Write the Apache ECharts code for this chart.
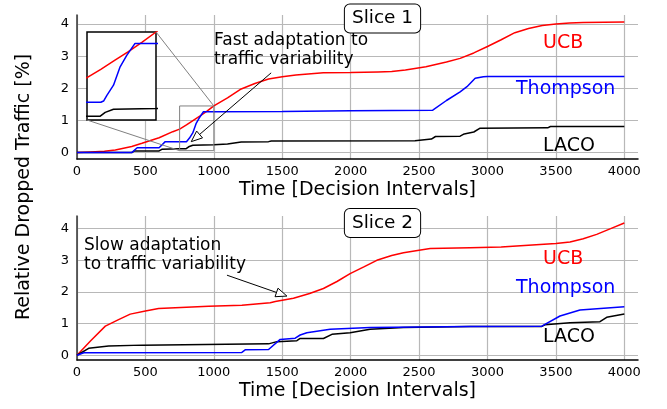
<!DOCTYPE html>
<html><head><meta charset="utf-8">
<script src="https://cdn.jsdelivr.net/npm/echarts@6/dist/echarts.min.js"></script>
<style>html,body{margin:0;padding:0;background:#fff}#c{width:667px;height:409px}</style>
</head><body><div id="c"></div>
<script>
// ---- data ----
const xTicks = [0, 500, 1000, 1500, 2000, 2500, 3000, 3500, 4000];
const yTicks = [0, 1, 2, 3, 4];

// Slice 1
const s1UcbX = [0,100,200,280,400,475,600,700,750,800,850,900,950,1000,1050,1100,1200,1300,1400,1500,1600,1800,2000,2200,2300,2400,2550,2700,2800,2900,3000,3100,3200,3300,3400,3500,3600,3700,4000];
const s1UcbY = [0,0.02,0.04,0.08,0.19,0.29,0.46,0.65,0.73,0.86,1.0,1.14,1.29,1.45,1.58,1.70,1.98,2.15,2.29,2.36,2.41,2.48,2.49,2.51,2.52,2.57,2.67,2.82,2.93,3.10,3.30,3.51,3.73,3.86,3.95,4.0,4.03,4.05,4.06];
const s1ThX = [0,400,410,440,600,610,645,800,810,822,846,870,894,924,1000,1500,2000,2600,2700,2800,2850,2910,2970,3000,4000];
const s1ThY = [0,0,0.05,0.15,0.15,0.2,0.34,0.34,0.36,0.45,0.61,0.90,1.08,1.27,1.27,1.28,1.30,1.32,1.62,1.89,2.05,2.31,2.36,2.37,2.37];
const s1LacoX = [0,400,420,600,620,750,798,816,846,1000,1100,1200,1400,1420,2470,2480,2590,2620,2800,2830,2900,2946,3440,3460,4000];
const s1LacoY = [0,0,0.05,0.05,0.10,0.12,0.12,0.18,0.23,0.24,0.27,0.33,0.34,0.36,0.37,0.41,0.42,0.50,0.51,0.58,0.64,0.76,0.77,0.81,0.81];

// Slice 2
const s2UcbX = [0,100,207,300,389,500,596,800,961,1205,1412,1449,1582,1700,1801,1900,1996,2100,2191,2300,2386,2500,2581,2873,3100,3384,3500,3603,3700,3798,3900,4000];
const s2UcbY = [0,0.46,0.92,1.12,1.30,1.40,1.48,1.52,1.55,1.58,1.66,1.70,1.80,1.95,2.11,2.33,2.58,2.80,3.0,3.15,3.24,3.32,3.37,3.40,3.42,3.50,3.53,3.58,3.68,3.82,4.0,4.18];
const s2ThX = [0,50,1205,1229,1400,1412,1485,1595,1631,1680,1850,2142,2873,3397,3530,3676,4000];
const s2ThY = [0,0.08,0.09,0.17,0.18,0.22,0.50,0.54,0.64,0.71,0.82,0.88,0.91,0.92,1.24,1.43,1.53];
const s2LacoX = [0,85,231,475,1400,1412,1461,1607,1631,1801,1863,1996,2142,2386,2873,3397,3420,3603,3822,3871,4000];
const s2LacoY = [0,0.22,0.29,0.32,0.36,0.38,0.43,0.46,0.53,0.53,0.66,0.71,0.82,0.88,0.91,0.91,0.96,1.03,1.06,1.20,1.30];

// inset region (data coords)
const insetX = [750, 1000];
const insetY = [0.06, 1.45];
// annotation arrows (data coords)
const fastArrowTail = [1419, 2.48], fastArrowTip = [835, 0.34];
const slowArrowTail = [1096, 2.53], slowArrowTip = [1534, 1.87];

// ---- build ----
const FONT = "'DejaVu Sans', sans-serif";
const pairs = (xs, ys) => xs.map((x, i) => [x, ys[i]]);
const colors = {ucb:'#ff0000', th:'#0000ff', laco:'#000000'};

function xAxis(gi) {
  return {type:'value', gridIndex:gi, min:0, max:4100,
    axisLine:{show:true, onZero:false, lineStyle:{color:'#000', width:1.5}},
    axisTick:{show:false, customValues:xTicks},
    axisLabel:{customValues:xTicks, fontSize:13, color:'#000', margin:6, fontFamily:FONT, formatter:v => String(v)},
    splitLine:{show:true, lineStyle:{color:'#b8b8b8', width:1.2}},
    name:'Time [Decision Intervals]', nameLocation:'middle', nameGap:22,
    nameTextStyle:{fontSize:19, color:'#000', fontFamily:FONT}};
}
function yAxis(gi, mn, mx) {
  return {type:'value', gridIndex:gi, min:mn, max:mx,
    axisLine:{show:true, onZero:false, lineStyle:{color:'#333', width:1.5}},
    axisTick:{show:false, customValues:yTicks},
    axisLabel:{customValues:yTicks, fontSize:13, color:'#000', margin:8, fontFamily:FONT, formatter:v => String(v)},
    splitLine:{show:true, lineStyle:{color:'#b8b8b8', width:1.2}}};
}
function line(name, gi, xs, ys, color, z) {
  return {type:'line', name, xAxisIndex:gi, yAxisIndex:gi, data:pairs(xs, ys),
    showSymbol:false, symbol:'none', lineStyle:{color, width:1.5}, itemStyle:{color},
    z:z||2, animation:false, clip:true};
}

const chart = echarts.init(document.getElementById('c'), null, {renderer:'canvas'});
chart.setOption({
  animation:false,
  backgroundColor:'#fff',
  grid:[
    {left:77, right:29, top:15, height:144},
    {left:77, right:29, top:216, height:144},
    {left:87, top:32, width:69, height:88, show:true, borderColor:'#000', borderWidth:1.5, backgroundColor:'#fff', z:3}
  ],
  xAxis:[xAxis(0), xAxis(1), {type:'value', gridIndex:2, min:insetX[0], max:insetX[1], show:false}],
  yAxis:[yAxis(0,-0.2,4.28), yAxis(1,-0.15,4.4), {type:'value', gridIndex:2, min:insetY[0], max:insetY[1], show:false}],
  series:[
    line('UCB',0,s1UcbX,s1UcbY,colors.ucb),
    line('LACO',0,s1LacoX,s1LacoY,colors.laco),
    line('Thompson',0,s1ThX,s1ThY,colors.th),
    line('UCB',1,s2UcbX,s2UcbY,colors.ucb),
    line('LACO',1,s2LacoX,s2LacoY,colors.laco),
    line('Thompson',1,s2ThX,s2ThY,colors.th),
    line('UCB',2,s1UcbX,s1UcbY,colors.ucb,5),
    line('LACO',2,s1LacoX,s1LacoY,colors.laco,5),
    line('Thompson',2,s1ThX,s1ThY,colors.th,5)
  ]
});

function px(gi, p) { return chart.convertToPixel({xAxisIndex:gi, yAxisIndex:gi}, p); }
function arrow(t0, t1) {
  const dx=t1[0]-t0[0], dy=t1[1]-t0[1], L=Math.hypot(dx,dy), ux=dx/L, uy=dy/L;
  const hl=11, hw=4.5, bx=t1[0]-ux*hl, by=t1[1]-uy*hl;
  return [
    {type:'line', z:20, shape:{x1:t0[0],y1:t0[1],x2:bx,y2:by}, style:{stroke:'#000', lineWidth:1}},
    {type:'polygon', z:20, shape:{points:[[t1[0],t1[1]],[bx-uy*hw,by+ux*hw],[bx+uy*hw,by-ux*hw]]}, style:{fill:'#fff', stroke:'#000', lineWidth:1}}
  ];
}
function txt(text, x, y, color, size, opts) {
  return {type:'text', z:20, style:Object.assign({text, x, y, fill:color, font:size+'px '+FONT, textAlign:'left', textVerticalAlign:'middle'}, opts||{})};
}

const rTL = px(0,[insetX[0],insetY[1]]), rBR = px(0,[insetX[1],insetY[0]]);
const iTL = px(2,[insetX[0],insetY[1]]), iBR = px(2,[insetX[1],insetY[0]]);
const g = [];
g.push({type:'rect', z:15, shape:{x:rTL[0], y:rTL[1], width:rBR[0]-rTL[0], height:rBR[1]-rTL[1]}, style:{fill:'none', stroke:'#808080', lineWidth:1}});
g.push({type:'line', z:15, shape:{x1:iBR[0], y1:iTL[1], x2:rBR[0], y2:rTL[1]}, style:{stroke:'#808080', lineWidth:1}});
g.push({type:'line', z:15, shape:{x1:iTL[0], y1:iBR[1], x2:rTL[0], y2:rBR[1]}, style:{stroke:'#808080', lineWidth:1}});
arrow(px(0,fastArrowTail), px(0,fastArrowTip)).forEach(e=>g.push(e));
arrow(px(1,slowArrowTail), px(1,slowArrowTip)).forEach(e=>g.push(e));

g.push(txt('UCB', 543, 43, colors.ucb, 19));
g.push(txt('Thompson', 516, 89, colors.th, 19));
g.push(txt('LACO', 543, 146, colors.laco, 19));
g.push(txt('UCB', 543, 259.5, colors.ucb, 19));
g.push(txt('Thompson', 516, 288, colors.th, 19));
g.push(txt('LACO', 543, 337.5, colors.laco, 19));
g.push(txt('Fast adaptation to\ntraffic variability', 214, 50, '#000', 17, {lineHeight:19.5}));
g.push(txt('Slow adaptation\nto traffic variability', 84, 255, '#000', 17, {lineHeight:19.5}));
g.push(txt('Slice 1', 382.5, 18.5, '#000', 18.5, {textAlign:'center', backgroundColor:'#fff', borderColor:'#000', borderWidth:1, borderRadius:5, padding:[5,7,4,7]}));
g.push(txt('Slice 2', 382.5, 223, '#000', 18.5, {textAlign:'center', backgroundColor:'#fff', borderColor:'#000', borderWidth:1, borderRadius:5, padding:[5,7,4,7]}));
g.push({type:'text', z:20, x:24, y:187, rotation:Math.PI/2, style:{text:'Relative Dropped Traffic [%]', x:0, y:0, fill:'#000', font:'19px '+FONT, textAlign:'center', textVerticalAlign:'middle'}});
chart.setOption({graphic:{elements:g}});
</script>
</body></html>
